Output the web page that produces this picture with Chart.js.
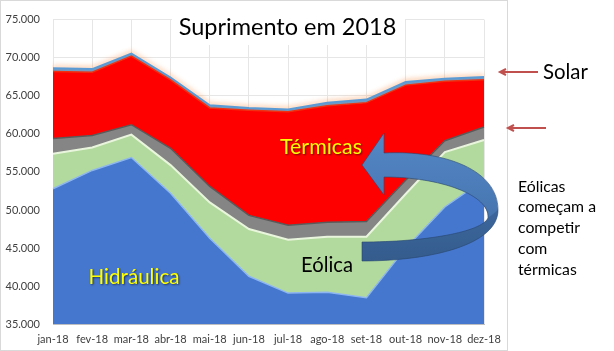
<!DOCTYPE html>
<html>
<head>
<meta charset="utf-8">
<script src="https://cdn.jsdelivr.net/npm/chart.js@4.4.1/dist/chart.umd.min.js"></script>
<style>
  html, body { margin: 0; padding: 0; background: #fff; }
  canvas { display: block; }
</style>
</head>
<body>
<canvas id="chart" width="614" height="351"></canvas>
<script>
const months = ["jan-18", "fev-18", "mar-18", "abr-18", "mai-18", "jun-18",
  "jul-18", "ago-18", "set-18", "out-18", "nov-18", "dez-18"];
const hidraulica = [52800, 55200, 56900, 52200, 46300, 41300, 39100, 39200, 38500, 45000, 50400, 54000];
const eolica = [4600, 3000, 3000, 3700, 4700, 6200, 7000, 7300, 8000, 7100, 7200, 5200];
const nuclear = [2000, 1600, 1300, 2200, 2100, 1800, 1900, 1900, 2000, 1800, 1500, 1700];
const termicas = [8800, 8300, 9000, 9000, 10300, 13800, 14900, 15300, 15600, 12500, 7800, 6200];
const solar = [400, 400, 350, 300, 350, 300, 300, 400, 400, 400, 350, 350];
const yTicks = [35000, 40000, 45000, 50000, 55000, 60000, 65000, 70000, 75000];

const FONT = "Lato, 'Open Sans', sans-serif";

function fmt(v) {
  return String(v).replace(/\B(?=(\d{3})+(?!\d))/g, ".");
}

// font size that makes text about w px wide
function fitFont(ctx, text, w, weight) {
  ctx.font = (weight || "") + " 100px " + FONT;
  const size = 100 * w / ctx.measureText(text).width;
  return (weight || "") + " " + size.toFixed(1) + "px " + FONT;
}

function label(ctx, text, cx, cy, w, color, shadow, align) {
  ctx.save();
  ctx.font = fitFont(ctx, text, w);
  ctx.fillStyle = color;
  ctx.textAlign = align || "center";
  ctx.textBaseline = "middle";
  if (shadow) {
    ctx.shadowColor = "rgba(0,0,0,0.55)";
    ctx.shadowBlur = 2;
    ctx.shadowOffsetX = 1;
    ctx.shadowOffsetY = 1;
  }
  ctx.fillText(text, cx, cy);
  ctx.restore();
}

function redArrow(ctx, x1, x2, y) {
  ctx.save();
  ctx.strokeStyle = "#C0504D";
  ctx.lineWidth = 2;
  ctx.beginPath();
  ctx.moveTo(x1, y);
  ctx.lineTo(x2, y);
  ctx.moveTo(x2 + 6, y - 3);
  ctx.lineTo(x2, y);
  ctx.lineTo(x2 + 6, y + 3);
  ctx.stroke();
  ctx.restore();
}

const extras = {
  id: "extras",
  beforeDatasetDraw(chart, args) {
    if (args.index === 4) {
      const ctx = chart.ctx;
      ctx.save();
      ctx.shadowColor = "rgba(250,150,80,0.9)";
      ctx.shadowBlur = 5;
      ctx.shadowOffsetY = -1;
    }
  },
  afterDatasetDraw(chart, args) {
    if (args.index === 4) chart.ctx.restore();
  },
  afterDraw(chart) {
    const ctx = chart.ctx;
    // chart frame
    ctx.save();
    ctx.strokeStyle = "#D9D9D9";
    ctx.lineWidth = 1;
    ctx.strokeRect(0.5, 0.5, 507, 350);
    ctx.restore();

    // title box
    ctx.fillStyle = "#fff";
    ctx.fillRect(172, 8, 233, 37);
    label(ctx, "Suprimento em 2018", 287.5, 27, 218, "#000", false);

    label(ctx, "Térmicas", 321, 147, 82, "#FFFF00", true);
    label(ctx, "Hidráulica", 134, 277, 91, "#FFFF00", true);
    label(ctx, "Eólica", 327, 265, 52, "#000", false);

    // curved blue arrow
    ctx.save();
    const g = ctx.createLinearGradient(0, 133, 0, 262);
    g.addColorStop(0, "#5587C6");
    g.addColorStop(0.5, "#4A7AB6");
    g.addColorStop(1, "#3B6597");
    ctx.fillStyle = g;
    ctx.strokeStyle = "rgba(40,70,110,0.6)";
    ctx.lineWidth = 1;
    ctx.beginPath();
    ctx.moveTo(362, 165);
    ctx.lineTo(384, 133);
    ctx.lineTo(384, 153);
    ctx.bezierCurveTo(445, 150, 498, 170, 498, 210);
    ctx.bezierCurveTo(498, 245, 430, 261, 362, 261);
    ctx.lineTo(362, 242);
    ctx.bezierCurveTo(425, 242, 482, 232, 488, 218);
    ctx.bezierCurveTo(490, 195, 440, 177, 384, 177);
    ctx.lineTo(384, 195);
    ctx.closePath();
    ctx.fill();
    ctx.stroke();
    // lower ribbon darker
    ctx.beginPath();
    ctx.moveTo(498, 210);
    ctx.bezierCurveTo(498, 245, 430, 261, 362, 261);
    ctx.lineTo(362, 242);
    ctx.bezierCurveTo(425, 242, 482, 232, 488, 218);
    ctx.closePath();
    ctx.fillStyle = "rgba(40,75,120,0.35)";
    ctx.fill();
    ctx.restore();

    // right side notes
    label(ctx, "Solar", 543, 72, 45, "#000", false, "left");
    redArrow(ctx, 538, 500, 72);
    redArrow(ctx, 546, 508, 128);
    const notes = ["Eólicas", "começam a", "competir", "com", "térmicas"];
    const ys = [187, 207, 227.5, 248.5, 269.5];
    ctx.save();
    ctx.font = fitFont(ctx, "começam a", 78);
    ctx.fillStyle = "#000";
    ctx.textBaseline = "middle";
    notes.forEach((t, i) => ctx.fillText(t, 518, ys[i]));
    ctx.restore();
  }
};

function layer(label, data, fill, border, width, fillMode) {
  return {
    label: label,
    data: data,
    backgroundColor: fill,
    borderColor: border,
    borderWidth: width,
    fill: fillMode,
    pointRadius: 0,
    tension: 0
  };
}

new Chart(document.getElementById("chart"), {
  type: "line",
  data: {
    labels: months,
    datasets: [
      layer("Hidráulica", hidraulica, "#4677CE", "#8DB6F0", 1.5, "start"),
      layer("Eólica", eolica, "#B3DA9E", "#E9F6DD", 2, "-1"),
      layer("Nuclear", nuclear, "#858585", "#5A5A5A", 1.5, "-1"),
      layer("Térmicas", termicas, "#FF0000", "#F03010", 1.5, "-1"),
      layer("Solar", solar, "#5B9BD5", "#5B9BD5", 2, "-1")
    ]
  },
  options: {
    responsive: false,
    animation: false,
    devicePixelRatio: 1,
    layout: { padding: { left: 0, right: 130, top: 10, bottom: 0 } },
    plugins: { legend: { display: false }, tooltip: { enabled: false } },
    scales: {
      x: {
        offset: false,
        grid: { color: "#E6E6E6", drawTicks: false },
        border: { color: "#BFBFBF" },
        ticks: { padding: 9, color: "#404040", maxRotation: 0, autoSkip: false,
          font: { family: FONT, size: 11 } },
        afterFit: s => { s.height = 26.7; }
      },
      y: {
        stacked: true,
        min: 35000,
        max: 75000,
        afterBuildTicks: s => { s.ticks = yTicks.map(v => ({ value: v })); },
        ticks: { padding: 13, color: "#404040", callback: v => fmt(v),
          font: { family: FONT, size: 11 } },
        grid: { color: "#E6E6E6", drawTicks: false },
        border: { display: false },
        afterFit: s => { s.width = 53; }
      }
    }
  },
  plugins: [extras]
});
</script>
</body>
</html>
